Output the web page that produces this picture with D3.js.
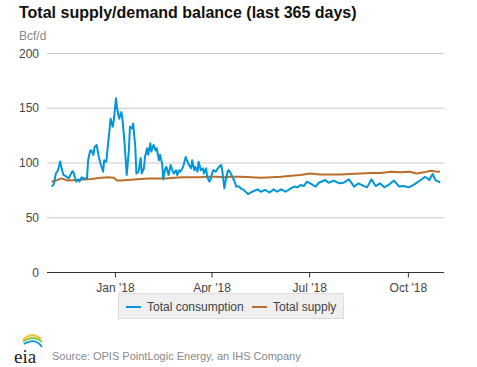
<!DOCTYPE html>
<html><head><meta charset="utf-8">
<script src="https://cdn.jsdelivr.net/npm/d3@7"></script>
<style>
body{margin:0;background:#fff;}
svg{display:block;font-family:"Liberation Sans",Arial,sans-serif;}
</style></head>
<body><svg id="chart" width="477" height="367"></svg>
<script>
// ---- data ----
const startDate = "2017-11-01"; // day 0
const consumptionDays = [2,4,6,8,10,11,13,16,18,21,22,24,25,27,28,30,32,35,36,38,39,41,42,44,46,48,50,51,53,54,56,57,59,60,62,63,65,67,68,70,72,74,75,77,78,80,81,83,85,86,88,89,91,92,94,95,97,99,100,102,103,105,106,108,109,111,113,115,116,118,119,121,122,124,125,127,129,130,132,133,135,136,138,139,141,143,144,146,147,149,150,152,153,155,157,158,160,161,163,164,166,167,169,171,172,174,177,178,181,185,189,194,197,201,205,209,212,216,220,225,228,231,234,237,240,243,248,251,257,260,265,270,274,279,284,288,293,296,300,304,308,312,316,321,326,330,335,340,346,350,354,357,360,363,364];
const consumption = [78,80,90,93,101,96,88.6,87,85.5,91.6,92,85.5,82.5,84.6,82.5,86.5,85.5,85.5,102,111,111,107,114,116,105,97.7,91.6,102,100.7,111,130,140,132.7,139,158.6,149.5,140,146,140,117.5,88.6,111,132.7,131,135.6,114,90,91.6,104,90,94.7,105,113,107,117.5,110,116,111,113,102,107,99,84.6,94.7,96,88.6,97.7,91.6,90,93,88.6,93,91.6,94.7,97.7,105,100,97.7,94.7,102,93,96,91.6,100.7,93,94.7,90,94.7,87,82.5,84,91.6,93,91.6,94.7,96,97.7,93,76.4,82.5,91.6,93,90,85.5,84,78,78,76.4,75,71.2,73.3,75.5,73.3,75,72.6,75.5,73.3,75.5,73.3,76.4,78,77.3,79.5,78.5,82.5,81,78,81.5,84,81.5,83.5,81,81.5,84.6,78,81,78.5,77.3,84.6,78.5,81,77.3,79.5,83.5,78,78.5,77.3,80,84,87,84,89.5,83.5,82.5,81.5];
const supplyDays = [2,6,11,17,25,32,39,48,55,60,63,67,73,85,93,101,108,116,124,132,140,147,155,163,170,178,188,197,207,216,225,234,243,252,262,271,280,290,300,309,318,327,336,342,349,355,360,364];
const supply = [82.5,83.5,85.5,83.5,84,84.5,85,86,86.5,86,83.5,83.5,84,85,85.5,85.5,85.5,86,86.5,86.5,86.5,87,87,86.5,87,87,86.5,86,86.5,87,88,88.5,90,89,89,89,89.5,90,90.5,90.5,91.6,91,91.6,90,91,92.5,91.8,91.6];
const yTicks = [0,50,100,150,200];
const xTickDates = ["2018-01-01","2018-04-01","2018-07-01","2018-10-01"];
const xTickLabels = ["Jan '18","Apr '18","Jul '18","Oct '18"];
const seriesNames = ["Total consumption","Total supply"];
const seriesColors = ["#0096d7","#bd6d2a"];

// ---- chart ----
const svg = d3.select("#chart");
const parse = d3.timeParse("%Y-%m-%d");
const d0 = parse(startDate);
const toDate = d => d3.timeDay.offset(d0, d);

const x = d3.scaleTime()
  .domain([parse("2017-10-30"), parse("2018-11-03")])
  .range([47.3, 443.3]);
const y = d3.scaleLinear().domain([0,200]).range([272,53]);

// title
svg.append("text").attr("x",19).attr("y",18)
  .attr("font-size",16).attr("font-weight","bold").attr("fill","#111")
  .text("Total supply/demand balance (last 365 days)");
svg.append("text").attr("x",19).attr("y",40)
  .attr("font-size",12).attr("fill","#888").text("Bcf/d");

// grid
const g = svg.append("g");
g.selectAll("line.grid").data(yTicks.filter(t=>t>0)).join("line")
  .attr("x1",47).attr("x2",444)
  .attr("y1",d=>y(d)+0.5).attr("y2",d=>y(d)+0.5)
  .attr("stroke","#c8c8c8").attr("stroke-width",1);
g.selectAll("text.yl").data(yTicks).join("text")
  .attr("x",39).attr("y",d=>y(d)+4.5).attr("text-anchor","end")
  .attr("font-size",12).attr("fill","#444").text(d=>d);

// x axis
const xAxis = d3.axisBottom(x)
  .tickValues(xTickDates.map(parse))
  .tickFormat((d,i)=>xTickLabels[i])
  .tickSize(5).tickSizeOuter(0);
const ax = svg.append("g").attr("transform","translate(0,272.5)").call(xAxis);
ax.select(".domain").attr("stroke","#333").attr("d","M47,0H444");
ax.selectAll(".tick line").attr("stroke","#333");
ax.selectAll(".tick text").attr("font-size",12).attr("fill","#444")
  .attr("font-family","'Liberation Sans',Arial,sans-serif").attr("dy","0.95em");

// lines
const line = d3.line().x(d=>x(toDate(d[0]))).y(d=>y(d[1])).curve(d3.curveLinear);
const cData = consumptionDays.map((d,i)=>[d,consumption[i]]);
const sData = supplyDays.map((d,i)=>[d,supply[i]]);
svg.append("path").datum(sData).attr("d",line).attr("fill","none")
  .attr("stroke",seriesColors[1]).attr("stroke-width",2).attr("stroke-linejoin","round");
svg.append("path").datum(cData).attr("d",line).attr("fill","none")
  .attr("stroke",seriesColors[0]).attr("stroke-width",2).attr("stroke-linejoin","round");

// legend
const lg = svg.append("g");
lg.append("rect").attr("x",118.5).attr("y",293.5).attr("width",225).attr("height",25)
  .attr("fill","#efefef").attr("stroke","#dcdcdc");
const items = [{x:126},{x:252}];
items.forEach((it,i)=>{
  lg.append("line").attr("x1",it.x).attr("x2",it.x+15).attr("y1",307).attr("y2",307)
    .attr("stroke",seriesColors[i]).attr("stroke-width",2);
  lg.append("text").attr("x",it.x+21).attr("y",311).attr("font-size",12)
    .attr("fill","#444").text(seriesNames[i]);
});

// footer logo
const logo = svg.append("g");
logo.append("path").attr("d","M23,340 Q32,331 41,339").attr("fill","none").attr("stroke","#f2c12e").attr("stroke-width",2);
logo.append("path").attr("d","M23,342 Q33,334 42,342").attr("fill","none").attr("stroke","#8cc63f").attr("stroke-width",1.8);
logo.append("path").attr("d","M24,344 Q35,337 42,347").attr("fill","none").attr("stroke","#0096d7").attr("stroke-width",1.8);
logo.append("text").attr("x",14).attr("y",363).attr("font-size",19)
  .attr("font-family","'Liberation Serif','DejaVu Serif',serif").attr("fill","#222").text("eia");
svg.append("text").attr("x",52).attr("y",360).attr("font-size",11)
  .attr("fill","#888").text("Source: OPIS PointLogic Energy, an IHS Company");
</script></body></html>
